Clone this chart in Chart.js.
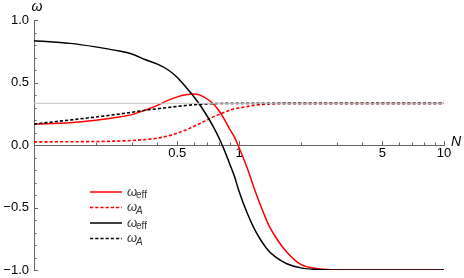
<!DOCTYPE html>
<html><head><meta charset="utf-8">
<script src="https://cdn.jsdelivr.net/npm/chart.js@4.4.1/dist/chart.umd.min.js"></script>
<style>html,body{margin:0;padding:0;background:#fff}#wrap{width:464px;height:278px;position:relative}</style>
</head><body><div id="wrap"><canvas id="c"></canvas></div>
<script>
const N = [0.1,0.15,0.2,0.25,0.3,0.35,0.4,0.45,0.5,0.55,0.6,0.65,0.7,0.75,0.8,0.85,0.9,0.95,1,1.1,1.2,1.3,1.4,1.5,1.7,2,2.5,3,4,5,7,10];
const redSolid = [0.167,0.178,0.198,0.22,0.243,0.28,0.317,0.357,0.385,0.402,0.408,0.397,0.368,0.328,0.272,0.203,0.128,0.063,-0.02,-0.19,-0.37,-0.52,-0.645,-0.73,-0.852,-0.955,-0.992,-0.999,-1,-1,-1,-1];
const redDashed = [0.025,0.026,0.028,0.031,0.036,0.044,0.055,0.072,0.095,0.12,0.148,0.175,0.2,0.225,0.245,0.262,0.277,0.29,0.296,0.308,0.318,0.325,0.329,0.331,0.333,0.3333,0.3333,0.3333,0.3333,0.3333,0.3333,0.3333];
const blackSolid = [0.835,0.813,0.785,0.757,0.728,0.682,0.647,0.602,0.54,0.464,0.39,0.312,0.23,0.145,0.054,-0.045,-0.15,-0.25,-0.37,-0.55,-0.685,-0.78,-0.85,-0.893,-0.948,-0.983,-0.997,-1,-1,-1,-1,-1];
const blackDashed = [0.168,0.2,0.224,0.244,0.262,0.278,0.29,0.3,0.309,0.316,0.322,0.326,0.329,0.331,0.332,0.333,0.333,0.3333,0.3333,0.3333,0.3333,0.3333,0.3333,0.3333,0.3333,0.3333,0.3333,0.3333,0.3333,0.3333,0.3333,0.3333];
const thirdLineX = [0.1, 10];
const thirdLineY = [1/3, 1/3];
const xTickValues = [0.5, 1, 5, 10];
const xTickLabels = ['0.5', '1', '5', '10'];
const xMinorTicks = [0.2,0.3,0.4,0.6,0.7,0.8,0.9,2,3,4,6,7,8,9];
const yTickValues = [-1, -0.5, 0, 0.5, 1];
const yTickLabels = ['\u22121.0', '\u22120.5', '0.0', '0.5', '1.0'];
const legendSubs = ['eff', 'A', 'eff', 'A'];
const legendColors = ['#ff0000', '#ff0000', '#000000', '#000000'];
const legendDashed = [false, true, false, true];

const FONT = '"Liberation Sans", Arial, sans-serif';
const toPts = (ys) => N.map((x, i) => ({x, y: ys[i]}));
const DASH = [3.2, 2];

const decor = {
  id: 'decor',
  afterDraw(chart) {
    const ctx = chart.ctx, xs = chart.scales.x, ys = chart.scales.y;
    const ax = xs.getPixelForValue(0.1), ay = ys.getPixelForValue(0);
    ctx.save();
    ctx.strokeStyle = '#666'; ctx.lineWidth = 1;
    for (let k = -10; k <= 10; k++) {
      const v = k / 10; const py = Math.round(ys.getPixelForValue(v)) + 0.5;
      const len = (k % 5 === 0) ? 4 : 2.5;
      ctx.beginPath(); ctx.moveTo(ax, py); ctx.lineTo(ax + len, py); ctx.stroke();
    }
    xTickValues.forEach(v => { const px = Math.round(xs.getPixelForValue(v)) + 0.5;
      ctx.beginPath(); ctx.moveTo(px, ay); ctx.lineTo(px, ay - 4); ctx.stroke(); });
    xMinorTicks.forEach(v => { const px = Math.round(xs.getPixelForValue(v)) + 0.5;
      ctx.beginPath(); ctx.moveTo(px, ay); ctx.lineTo(px, ay - 2.5); ctx.stroke(); });
    ctx.fillStyle = '#000';
    ctx.font = 'italic 14px ' + FONT;
    ctx.textAlign = 'center'; ctx.textBaseline = 'alphabetic';
    ctx.fillText('\u03c9', ax + 3, 11);
    ctx.textAlign = 'left';
    ctx.fillText('N', xs.getPixelForValue(10) + 7, ay + 1);
    const rows = [192, 207.5, 223, 238.5];
    rows.forEach((ry, i) => {
      ctx.strokeStyle = legendColors[i]; ctx.lineWidth = 1.5;
      ctx.setLineDash(legendDashed[i] ? DASH : []);
      ctx.beginPath(); ctx.moveTo(90, ry); ctx.lineTo(122, ry); ctx.stroke();
      ctx.setLineDash([]);
      ctx.fillStyle = '#333';
      ctx.font = 'italic 13px ' + FONT;
      ctx.textAlign = 'left'; ctx.textBaseline = 'alphabetic';
      ctx.fillText('\u03c9', 127, ry + 3.5);
      if (legendSubs[i] === 'A') { ctx.font = 'italic 10px ' + FONT; }
      else { ctx.font = '10px ' + FONT; }
      ctx.fillText(legendSubs[i], 136, ry + 6);
    });
    ctx.restore();
  }
};

new Chart(document.getElementById('c'), {
  type: 'line',
  data: {
    datasets: [
      {data: thirdLineX.map((x, i) => ({x, y: thirdLineY[i]})), borderColor: '#c4c4c4', borderWidth: 1, pointRadius: 0},
      {data: toPts(blackSolid), borderColor: '#000', borderWidth: 1.5, pointRadius: 0, cubicInterpolationMode: 'monotone'},
      {data: toPts(blackDashed), borderColor: '#000', borderWidth: 1.6, borderDash: DASH, pointRadius: 0, cubicInterpolationMode: 'monotone'},
      {data: toPts(redSolid), borderColor: '#ff0000', borderWidth: 1.5, pointRadius: 0, cubicInterpolationMode: 'monotone'},
      {data: toPts(redDashed), borderColor: '#ff0000', borderWidth: 1.6, borderDash: DASH, pointRadius: 0, cubicInterpolationMode: 'monotone'}
    ]
  },
  options: {
    responsive: true, maintainAspectRatio: false, animation: false,
    layout: {padding: {left: 0, right: 20, top: 20, bottom: 8}},
    plugins: {legend: {display: false}, tooltip: {enabled: false}},
    scales: {
      x: {
        type: 'logarithmic', min: 0.1, max: 10, position: {y: 0},
        grid: {display: false, drawTicks: false},
        border: {display: true, color: '#666', width: 1},
        afterBuildTicks: s => { s.ticks = xTickValues.map(v => ({value: v})); },
        afterFit: s => { s.height = 0; s.paddingLeft = 0; s.paddingRight = 0; },
        ticks: {autoSkip: false, maxRotation: 0, padding: 1, color: '#000', font: {family: FONT, size: 13},
          callback: (v) => { const i = xTickValues.indexOf(v); return i >= 0 ? xTickLabels[i] : ''; }}
      },
      y: {
        min: -1, max: 1,
        grid: {display: false, drawTicks: false},
        border: {display: true, color: '#666', width: 1},
        afterBuildTicks: s => { s.ticks = yTickValues.map(v => ({value: v})); },
        afterFit: s => { s.width = 34; s.paddingTop = 0; s.paddingBottom = 0; },
        ticks: {padding: 5, color: '#000', font: {family: FONT, size: 13},
          callback: (v) => { const i = yTickValues.indexOf(v); return i >= 0 ? yTickLabels[i] : ''; }}
      }
    }
  },
  plugins: [decor]
});
</script></body></html>
